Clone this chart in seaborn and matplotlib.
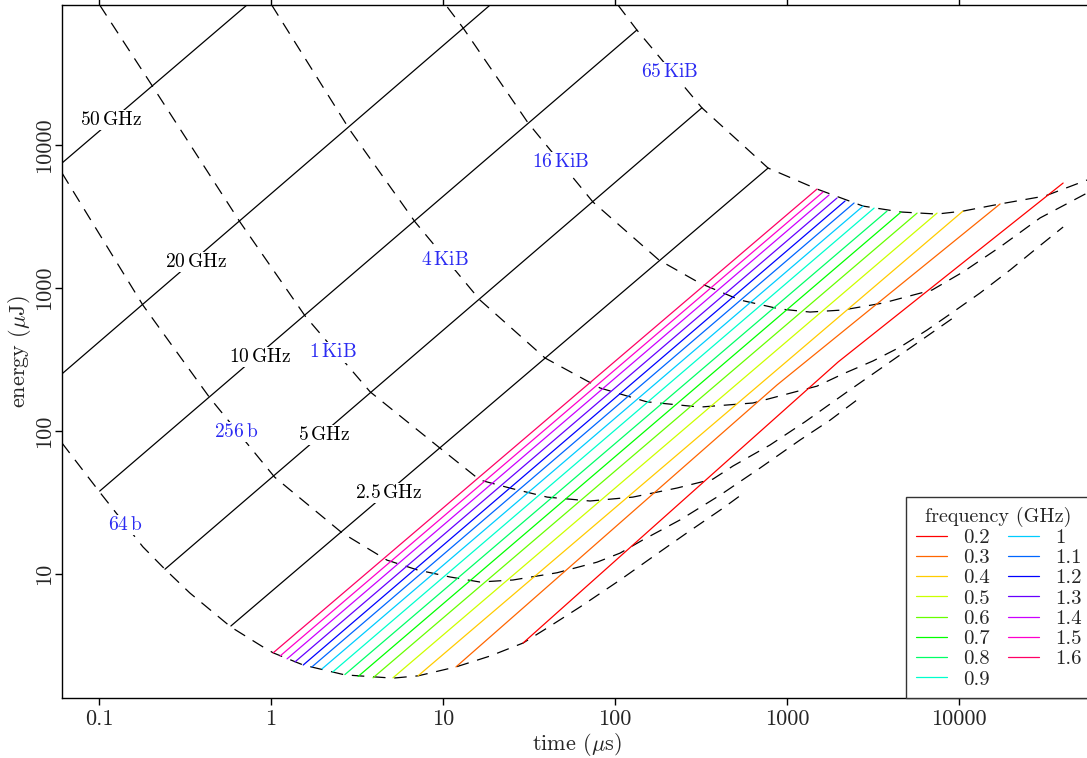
import pandas as pd
import seaborn as sns
import matplotlib.pyplot as plt

# measured frequencies (GHz) -> one coloured line each, from 64 b up to 65 KiB
freqs = ["0.2", "0.3", "0.4", "0.5", "0.6", "0.7", "0.8", "0.9",
         "1", "1.1", "1.2", "1.3", "1.4", "1.5", "1.6"]
start_t = [29.2, 11.9, 7.16, 5.12, 3.92, 3.21, 2.69, 2.29, 1.98, 1.73, 1.54, 1.38, 1.24, 1.13, 1.03]
start_E = [3.29, 2.24, 1.94, 1.88, 1.88, 1.92, 1.98, 2.07, 2.17, 2.24, 2.31, 2.43, 2.55, 2.67, 2.81]
end_t = [40270, 17310, 10540, 7446, 5700, 4602, 3813, 3206, 2767, 2453, 2175, 1953, 1754, 1618, 1494]
end_E = [5420, 3870, 3450, 3340, 3340, 3400, 3450, 3620, 3740, 3930, 4060, 4260, 4470, 4690, 4920]
kink = {"0.2": (1982, 304), "0.3": (875, 210)}

# extrapolated clock rates (solid black lines)
ghz_names = ["50$\\,$GHz", "20$\\,$GHz", "10$\\,$GHz", "5$\\,$GHz", "2.5$\\,$GHz"]
ghz_t0 = [0.061, 0.061, 0.101, 0.242, 0.585]
ghz_E0 = [7480, 251, 38.0, 10.8, 4.33]
ghz_t1 = [0.725, 18.8, 134, 320, 776]
ghz_E1 = [95300, 95300, 63700, 18200, 6900]
ghz_lab_t = [0.117, 0.366, 0.863, 2.03, 4.85]
ghz_lab_E = [14960, 1520, 329, 93.8, 36.8]

# iso-size curves (dashed)
b64_t = [0.061, 0.101, 0.180, 0.242, 0.338, 0.585, 0.899, 1.03, 1.54, 2.69, 5.12, 7.16, 11.9,
         18.8, 29.2, 40.3, 62.6, 107, 166, 262, 425, 570]
b64_E = [82.4, 37.4, 15.5, 10.8, 7.36, 4.26, 3.09, 2.81, 2.31, 1.97, 1.87, 1.94, 2.24,
         2.67, 3.29, 4.19, 5.88, 9.08, 13.2, 19.4, 28.9, 37.4]
b256_t = [0.061, 0.180, 0.442, 1.05, 2.59, 4.73, 7.06, 11.0, 16.4, 25.5, 46.0, 78.6, 107,
          145, 239, 408, 697, 1190, 1778, 2553]
b256_E = [6370, 760, 170, 47.6, 19.4, 12.5, 10.7, 9.53, 8.79, 9.08, 10.2, 12.1, 14.0,
          17.3, 23.9, 35.6, 55.1, 86.5, 119, 165]
k1_t = [0.101, 0.206, 0.660, 1.58, 3.77, 9.60, 16.4, 24.5, 40.3, 71.6, 127, 229, 371, 485,
        796, 1273, 2323, 4539, 9226]
k1_E = [95300, 25500, 2900, 637, 188, 76.0, 45.4, 39.9, 34.5, 32.4, 34.5, 39.9, 46.1, 56.9,
        79.8, 116, 194, 340, 617]
k4_t = [1.01, 2.88, 6.88, 16.4, 39.2, 81.8, 153, 312, 634, 1494, 2118, 3162, 4539, 6516,
        9226, 13250, 19810, 28400, 40270]
k4_E = [95300, 12700, 2900, 824, 324, 200, 160, 147, 157, 206, 251, 309, 386, 508,
        679, 923, 1337, 1905, 2670]
k16_t = [10.6, 13.1, 31.2, 74.5, 180, 312, 533, 910, 1361, 2118, 3615, 6966, 10540, 17310,
         29580, 55460]
k16_E = [92200, 65800, 14300, 3990, 1570, 1080, 824, 713, 679, 702, 785, 968, 1294, 1936,
         3090, 4613]
k65_t = [104, 134, 320, 776, 1494, 2767, 4602, 7446, 10540, 17310, 31620, 55460]
k65_E = [95300, 63700, 18200, 6900, 4920, 3740, 3400, 3290, 3450, 3870, 4400, 5690]

size_names = ["64$\\,$b", "256$\\,$b", "1$\\,$KiB", "4$\\,$KiB", "16$\\,$KiB", "65$\\,$KiB"]
size_lab_t = [0.142, 0.626, 2.29, 10.3, 48.5, 209]
size_lab_E = [22.0, 98.4, 356, 1570, 7600, 32400]

# build long table for the coloured lines
rows = []
for i, f in enumerate(freqs):
    pts = [(start_t[i], start_E[i])]
    if f in kink:
        pts.append(kink[f])
    pts.append((end_t[i], end_E[i]))
    for j, (t, e) in enumerate(pts):
        rows.append({"freq": f, "order": j, "time": t, "energy": e})
df = pd.DataFrame(rows)

sns.set_style("ticks")
plt.rcParams["font.family"] = "serif"
plt.rcParams["font.serif"] = ["cmr10"]
plt.rcParams["mathtext.fontset"] = "cm"
plt.rcParams["axes.formatter.use_mathtext"] = True

fig = plt.figure(figsize=(10.87, 7.58), dpi=100)
ax = fig.add_axes([62 / 1087, 60 / 758, 1029 / 1087, 693 / 758])
ax.set_xscale("log")
ax.set_yscale("log")

dash = (0, (10, 7))
for t, e in [(b64_t, b64_E), (b256_t, b256_E), (k1_t, k1_E), (k4_t, k4_E),
             (k16_t, k16_E), (k65_t, k65_E)]:
    ax.plot(t, e, color="black", lw=0.9, linestyle=dash, zorder=2)

for i in range(len(ghz_names)):
    ax.plot([ghz_t0[i], ghz_t1[i]], [ghz_E0[i], ghz_E1[i]], color="black", lw=0.9, zorder=2)

palette = sns.hls_palette(len(freqs), h=0, l=0.5, s=1)
sns.lineplot(data=df, x="time", y="energy", hue="freq", hue_order=freqs, palette=palette,
             units="freq", estimator=None, sort=False, lw=0.9, ax=ax, zorder=3)

for i, name in enumerate(ghz_names):
    ax.text(ghz_lab_t[i], ghz_lab_E[i], name, ha="center", va="center", fontsize=14,
            color="black", zorder=5, bbox=dict(fc="white", ec="none", pad=1.0))
for i, name in enumerate(size_names):
    ax.text(size_lab_t[i], size_lab_E[i], name, ha="center", va="center", fontsize=14,
            color="#2b2bf2", zorder=5, bbox=dict(fc="white", ec="none", pad=1.0))

ax.set_xlim(0.0610, 58480)
ax.set_ylim(1.358, 95300)

xt = [0.1, 1, 10, 100, 1000, 10000]
ax.set_xticks(xt)
ax.set_xticklabels(["0.1", "1", "10", "100", "1000", "10000"], fontsize=16)
yt = [10, 100, 1000, 10000]
ax.set_yticks(yt)
ax.set_yticklabels(["10", "100", "1000", "10000"], fontsize=16, rotation=90, va="center")
ax.minorticks_off()
ax.tick_params(axis="both", which="major", direction="out", length=5, width=1,
               color="black")
ax.tick_params(axis="x", top=True, pad=3)
ax.tick_params(axis="y", pad=0.5)
for side in ["left", "bottom", "top"]:
    ax.spines[side].set_linewidth(1.0)
    ax.spines[side].set_color("black")
ax.spines["right"].set_visible(False)

ax.set_xlabel("time ($\\mu$s)", fontsize=16, labelpad=2)
ax.set_ylabel("energy ($\\mu$J)", fontsize=16)
ax.yaxis.set_label_coords(-0.028, 0.5)

handles, labels = ax.get_legend_handles_labels()
leg = ax.legend(handles, labels, title="frequency (GHz)", ncol=2, loc="lower right",
                fontsize=15, title_fontsize=14.5, frameon=True, fancybox=False,
                borderaxespad=0, handlelength=1.5, handletextpad=0.75,
                columnspacing=0.9, labelspacing=0.08, borderpad=0.45)
leg.get_frame().set_edgecolor("#333333")
leg.get_frame().set_linewidth(1.0)
leg.get_frame().set_alpha(1)

fig.savefig("out.png", dpi=100)
